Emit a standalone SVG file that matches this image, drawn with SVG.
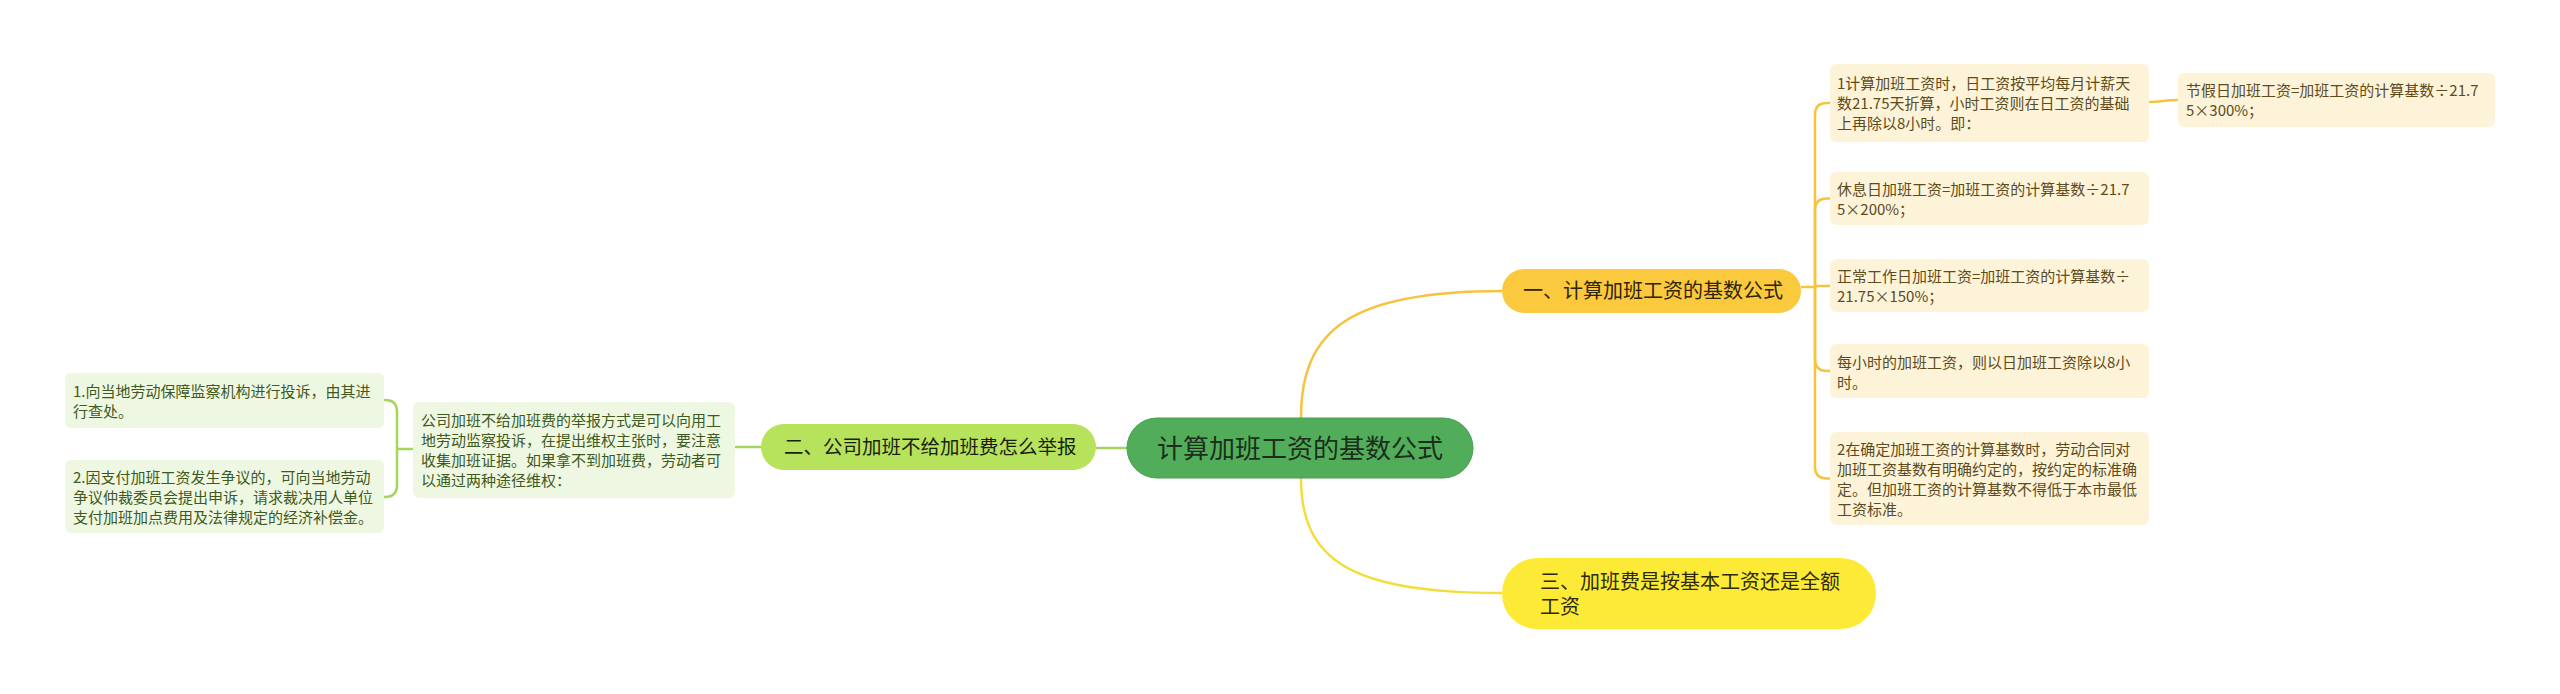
<svg xmlns="http://www.w3.org/2000/svg" width="2560" height="694" viewBox="0 0 2560 694">
<style>
text{font-family:"Noto Sans CJK SC","Noto Sans",sans-serif;}
.cream{fill:#fdf3d8;}
.ctext{font-size:15px;fill:#5e4b1c;}
.green{fill:#eef7e2;}
.gtext{font-size:15px;fill:#3f5a20;}
.lo{fill:none;stroke:#f6c33f;stroke-width:2.5;}
.ly{fill:none;stroke:#f4dd3a;stroke-width:2.5;}
.lg{fill:none;stroke:#a6d45c;stroke-width:2.5;}
</style>
<rect width="2560" height="694" fill="#ffffff"/>
<g id="connectors">
<path class="lo" d="M1301,418 C1301,330 1350,291 1502,291"/>
<path class="ly" d="M1301,478 C1301,560 1350,593 1502,593"/>
<path class="lg" d="M1127,448 H1096"/>
<path class="lo" d="M1801,287 H1815"/>
<path class="lo" d="M1815,287 V115 Q1815,103 1827,103 H1830"/>
<path class="lo" d="M1815,287 V210.5 Q1815,198.5 1827,198.5 H1830"/>
<path class="lo" d="M1815,286 H1830"/>
<path class="lo" d="M1815,287 V359 Q1815,371 1827,371 H1830"/>
<path class="lo" d="M1815,287 V466.5 Q1815,478.5 1827,478.5 H1830"/>
<path class="lo" d="M2149,102 C2163,102 2163,100 2178,100"/>
<path class="lg" d="M761,447 H735"/>
<path class="lg" d="M413,449 H397"/>
<path class="lg" d="M397,449 V412 Q397,400 385,400 H384"/>
<path class="lg" d="M397,449 V485 Q397,497 385,497 H384"/>
</g>
<g id="root">
<rect x="1127" y="418" width="346" height="60" rx="30" fill="#52ad5a" stroke="#48a050" stroke-width="1"/>
<text x="1300" y="457.5" font-size="26" fill="#1c2e1c" text-anchor="middle">计算加班工资的基数公式</text>
</g>
<g id="n1">
<rect x="1502" y="269" width="299" height="44" rx="22" fill="#fbc93d"/>
<text x="1523" y="298" font-size="20" fill="#2e2408">一、计算加班工资的基数公式</text>
</g>
<g id="n1a">
<rect class="cream" x="1830" y="64" width="319" height="78" rx="6"/>
<text class="ctext" x="1837" y="88.5">1计算加班工资时，日工资按平均每月计薪天</text>
<text class="ctext" x="1837" y="108.5">数21.75天折算，小时工资则在日工资的基础</text>
<text class="ctext" x="1837" y="128.5">上再除以8小时。即：</text>
</g>
<g id="n1a1">
<rect class="cream" x="2178" y="73" width="317" height="54" rx="6"/>
<text class="ctext" x="2186" y="95.5">节假日加班工资=加班工资的计算基数÷21.7</text>
<text class="ctext" x="2186" y="115.5">5×300%；</text>
</g>
<g id="n1b">
<rect class="cream" x="1830" y="172" width="319" height="53" rx="6"/>
<text class="ctext" x="1837" y="195">休息日加班工资=加班工资的计算基数÷21.7</text>
<text class="ctext" x="1837" y="215">5×200%；</text>
</g>
<g id="n1c">
<rect class="cream" x="1830" y="259" width="319" height="53" rx="6"/>
<text class="ctext" x="1837" y="282">正常工作日加班工资=加班工资的计算基数÷</text>
<text class="ctext" x="1837" y="302">21.75×150%；</text>
</g>
<g id="n1d">
<rect class="cream" x="1830" y="344" width="319" height="54" rx="6"/>
<text class="ctext" x="1837" y="367.5">每小时的加班工资，则以日加班工资除以8小</text>
<text class="ctext" x="1837" y="387.5">时。</text>
</g>
<g id="n1e">
<rect class="cream" x="1830" y="432" width="319" height="93" rx="6"/>
<text class="ctext" x="1837" y="455">2在确定加班工资的计算基数时，劳动合同对</text>
<text class="ctext" x="1837" y="475">加班工资基数有明确约定的，按约定的标准确</text>
<text class="ctext" x="1837" y="495">定。但加班工资的计算基数不得低于本市最低</text>
<text class="ctext" x="1837" y="515">工资标准。</text>
</g>
<g id="n2">
<rect x="761" y="424" width="335" height="46" rx="23" fill="#b6e25c"/>
<text x="784" y="454" font-size="19.5" fill="#1a1f10">二、公司加班不给加班费怎么举报</text>
</g>
<g id="n2a">
<rect class="green" x="413" y="402" width="322" height="96" rx="6"/>
<text class="gtext" x="421" y="425.5">公司加班不给加班费的举报方式是可以向用工</text>
<text class="gtext" x="421" y="445.5">地劳动监察投诉，在提出维权主张时，要注意</text>
<text class="gtext" x="421" y="465.5">收集加班证据。如果拿不到加班费，劳动者可</text>
<text class="gtext" x="421" y="485.5">以通过两种途径维权：</text>
</g>
<g id="n2a1">
<rect class="green" x="65" y="373" width="319" height="55" rx="6"/>
<text class="gtext" x="73" y="396.5">1.向当地劳动保障监察机构进行投诉，由其进</text>
<text class="gtext" x="73" y="416.5">行查处。</text>
</g>
<g id="n2a2">
<rect class="green" x="65" y="460" width="319" height="73" rx="6"/>
<text class="gtext" x="73" y="482.5">2.因支付加班工资发生争议的，可向当地劳动</text>
<text class="gtext" x="73" y="502.5">争议仲裁委员会提出申诉，请求裁决用人单位</text>
<text class="gtext" x="73" y="522.5">支付加班加点费用及法律规定的经济补偿金。</text>
</g>
<g id="n3">
<rect x="1502" y="558" width="374" height="71" rx="35" fill="#fdea37"/>
<text x="1540" y="589" font-size="20" fill="#2e2a08">三、加班费是按基本工资还是全额</text>
<text x="1540" y="614" font-size="20" fill="#2e2a08">工资</text>
</g>
</svg>
